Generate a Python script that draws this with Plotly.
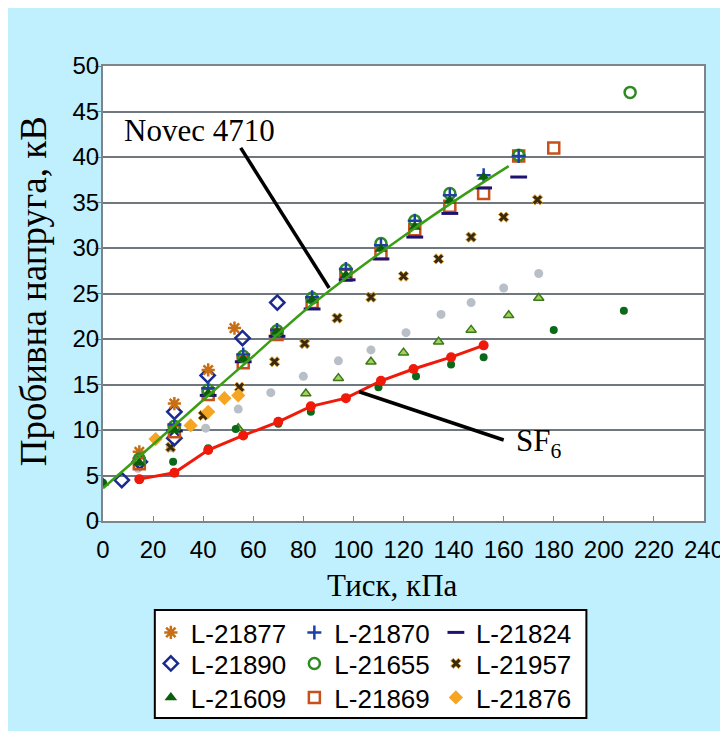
import plotly.graph_objects as go

# ---------------- data ----------------
x_21877 = [14.5, 28.5, 42, 52.5]
y_21877 = [7.6, 12.9, 16.6, 21.2]

x_21870 = [28.5, 42, 56, 69.5, 83.5, 97, 111, 124.5, 138.5, 152, 166]
y_21870 = [10.6, 14.6, 18.3, 21.0, 24.6, 27.7, 30.3, 33.0, 35.8, 38.0, 40.1]

x_21824 = [28.5, 42, 56, 69.5, 83.5, 97.5, 111, 124.5, 138.5, 152, 166]
y_21824 = [9.9, 13.8, 17.5, 20.3, 23.3, 26.5, 28.8, 31.2, 33.8, 36.6, 37.8]

x_21890 = [7.5, 14.7, 28.5, 28.5, 41.8, 55.7, 69.6]
y_21890 = [4.5, 6.5, 9.1, 12.0, 16.0, 20.1, 24.0]

x_21655 = [14.5, 28.5, 42, 56, 69.5, 83.5, 97, 111, 124.5, 138.5, 166, 210.5]
y_21655 = [6.8, 10.4, 14.4, 18.1, 20.9, 24.5, 27.6, 30.5, 33.0, 36.0, 40.2, 47.1]

x_21957 = [27, 40, 54.5, 68.5, 80.5, 93.5, 107, 120, 134, 147, 160, 173.5]
y_21957 = [8.1, 11.6, 14.7, 17.5, 19.5, 22.3, 24.6, 26.9, 28.8, 31.2, 33.4, 35.3]

x_21609 = [0, 14.5, 28.5, 42, 56, 69.5, 83.5, 97, 111, 124.5, 138.5, 152]
y_21609 = [4.2, 6.4, 10.0, 14.0, 17.8, 20.8, 24.3, 27.0, 29.9, 32.3, 35.2, 37.8]

x_21869 = [14.5, 28.5, 42, 56, 69.5, 83.5, 97, 111, 124.5, 138.5, 152, 166, 180]
y_21869 = [6.3, 9.8, 13.9, 17.4, 20.5, 24.0, 27.0, 29.4, 32.0, 34.6, 36.0, 40.1, 41.0]

x_21876 = [21, 35, 42, 48.5, 54]
y_21876 = [9.0, 10.5, 12.0, 13.5, 13.8]

# unlabelled series
x_grey = [14, 27, 41, 54, 67, 80, 94, 107, 121, 135, 147, 160, 174]
y_grey = [5.8, 8.1, 10.2, 12.3, 14.1, 15.9, 17.6, 18.8, 20.7, 22.7, 24.0, 25.6, 27.2]

x_ltri = [54, 81, 94, 107, 120, 134, 147, 162, 174]
y_ltri = [10.2, 14.0, 15.7, 17.5, 18.5, 19.7, 21.0, 22.6, 24.5]

x_dgdot = [0, 14.5, 28, 42, 53, 70, 83, 110, 125, 139, 152, 180, 208]
y_dgdot = [4.2, 4.5, 6.5, 8.0, 10.1, 10.7, 12.0, 14.7, 15.9, 17.2, 18.0, 21.0, 23.1]

x_sf6 = [14.5, 28.5, 42, 56, 70, 83, 97, 111, 124, 139, 152]
y_sf6 = [4.6, 5.3, 7.8, 9.4, 10.9, 12.6, 13.5, 15.4, 16.7, 18.0, 19.3]

x_novec_fit = [0, 20, 40, 60, 80, 100, 120, 140, 162]
y_novec_fit = [3.6, 8.4, 13.3, 18.1, 23.0, 27.3, 31.3, 35.1, 39.0]

x_ticks = list(range(0, 241, 20))
y_ticks = list(range(0, 51, 5))

# legend grid: series name -> (row, column)
legend_cells = {
    "L-21877": (0, 0), "L-21870": (0, 1), "L-21824": (0, 2),
    "L-21890": (1, 0), "L-21655": (1, 1), "L-21957": (1, 2),
    "L-21609": (2, 0), "L-21869": (2, 1), "L-21876": (2, 2),
}

# ---------------- geometry helpers (plot area in page pixels) ----------------
PL, PR, PT, PB = 103, 706, 66, 521          # plot area edges on the page
PW, PH = PR - PL, PB - PT
BODY = 8                                     # default body margin of the html page


def px(sx):
    return (sx - PL) / PW


def py(sy):
    return (PB - sy) / PH


legend_cols_px = [151, 295, 437]
legend_rows_px = [609, 640, 674]

# ---------------- figure ----------------
fig = go.Figure()


def add_unl(x, y, marker, name):
    fig.add_trace(go.Scatter(x=x, y=y, mode="markers", marker=marker,
                             name=name, showlegend=False, hoverinfo="skip"))


add_unl(x_grey, y_grey, dict(symbol="circle", size=9, color="#B8BFC6"), "grey")
add_unl(x_ltri, y_ltri, dict(symbol="triangle-up", size=9, color="#A6D060",
                             line=dict(color="#3A7A18", width=1.5)), "ltri")
add_unl(x_dgdot, y_dgdot, dict(symbol="circle", size=8, color="#0B6A1A"), "dgdot")

leg_ids = {}
order = list(legend_cells.keys())
for i, nm in enumerate(order):
    leg_ids[nm] = "legend" if i == 0 else f"legend{i + 1}"


def add_ser(x, y, name, marker):
    fig.add_trace(go.Scatter(x=x, y=y, mode="markers", name=name, marker=marker,
                             legend=leg_ids[name]))


add_ser(x_21957, y_21957, "L-21957",
        dict(symbol="x", size=9, color="#3A2A10", line=dict(color="#D9A030", width=1)))
add_ser(x_21876, y_21876, "L-21876",
        dict(symbol="diamond", size=11, color="#F5A521"))
add_ser(x_21890, y_21890, "L-21890",
        dict(symbol="diamond-open", size=11, color="#1A2A8E", line=dict(width=2.5)))
add_ser(x_21877, y_21877, "L-21877",
        dict(symbol="asterisk-open", size=11, color="#C86E14",
             line=dict(width=2.5, color="#C86E14")))
add_ser(x_21869, y_21869, "L-21869",
        dict(symbol="square-open", size=11, color="#C8501A", line=dict(width=2.5)))
add_ser(x_21824, y_21824, "L-21824",
        dict(symbol="line-ew-open", size=12, color="#1E1270",
             line=dict(width=3, color="#1E1270")))
add_ser(x_21655, y_21655, "L-21655",
        dict(symbol="circle-open", size=11, color="#2E8B22", line=dict(width=2.5)))
add_ser(x_21870, y_21870, "L-21870",
        dict(symbol="cross-thin-open", size=10, color="#1F3FA8",
             line=dict(width=2.5, color="#1F3FA8")))
add_ser(x_21609, y_21609, "L-21609",
        dict(symbol="triangle-up", size=11, color="#0B5E0B"))

# fitted lines
fig.add_trace(go.Scatter(x=x_novec_fit, y=y_novec_fit, mode="lines", line_shape="spline",
                         line=dict(color="#3A9E14", width=2.5), showlegend=False,
                         hoverinfo="skip"))
fig.add_trace(go.Scatter(x=x_sf6, y=y_sf6, mode="lines+markers",
                         line=dict(color="#F01A0A", width=3),
                         marker=dict(symbol="circle", size=10, color="#F01A0A"),
                         showlegend=False, hoverinfo="skip"))

# ---------------- layout ----------------
sans = "Liberation Sans, Arial, sans-serif"
serif = "Liberation Serif, Times New Roman, serif"
tick_font = dict(family=sans, size=24, color="black")

legends = {}
for nm, (r, c) in legend_cells.items():
    legends[leg_ids[nm]] = dict(
        x=px(legend_cols_px[c]), y=py(legend_rows_px[r]),
        xanchor="left", yanchor="top", orientation="v",
        font=dict(family=sans, size=26, color="black"),
        bgcolor="rgba(0,0,0,0)", borderwidth=0)

fig.update_layout(
    width=728, height=731,
    margin=dict(l=PL - BODY, r=728 - PR + BODY, t=PT - BODY, b=731 - PB + BODY),
    paper_bgcolor="#C0EFFE",
    plot_bgcolor="white",
    showlegend=True,
    **legends,
    xaxis=dict(range=[0, 240], tickvals=x_ticks, ticktext=[str(v) for v in x_ticks],
               showgrid=False, zeroline=False, showline=True, linecolor="#7C858C",
               linewidth=2, mirror=True, ticks="inside", ticklen=5, tickcolor="#7C858C",
               tickfont=tick_font, ticklabelstandoff=6),
    yaxis=dict(range=[0, 50], tickvals=y_ticks, showgrid=True, gridcolor="#6E787E",
               gridwidth=1.5, zeroline=False, showline=True, linecolor="#7C858C",
               linewidth=2, mirror=True, ticks="outside", ticklen=6, tickcolor="#7C858C",
               tickfont=tick_font, ticklabelstandoff=-9),
    shapes=[
        # legend box
        dict(type="rect", xref="paper", yref="paper",
             x0=px(155), x1=px(588), y0=py(718), y1=py(610),
             fillcolor="white", line=dict(color="black", width=2), layer="below"),
        # leader lines
        dict(type="line", xref="x", yref="y", x0=55.0, y0=41.0, x1=90.3, y1=25.6,
             line=dict(color="black", width=3.5)),
        dict(type="line", xref="x", yref="y", x0=102.3, y0=14.2, x1=160, y1=8.9,
             line=dict(color="black", width=3.5)),
    ],
    annotations=[
        dict(text="Novec 4710", x=38.6, y=42.9, xref="x", yref="y", showarrow=False,
             xanchor="center", yanchor="middle",
             font=dict(family=serif, size=31, color="black")),
        dict(text="SF<sub>6</sub>", x=174, y=8.6, xref="x", yref="y", showarrow=False,
             xanchor="center", yanchor="middle",
             font=dict(family=serif, size=31, color="black")),
        dict(text="Тиск, кПа", x=px(393), y=py(585), xref="paper", yref="paper",
             showarrow=False, xanchor="center", yanchor="middle",
             font=dict(family=serif, size=31, color="black")),
        dict(text="Пробивна напруга, кВ", x=px(33), y=py(291), xref="paper", yref="paper",
             showarrow=False, textangle=-90, xanchor="center", yanchor="middle",
             font=dict(family=serif, size=37, color="black")),
    ],
)

fig.write_html("out.html")
